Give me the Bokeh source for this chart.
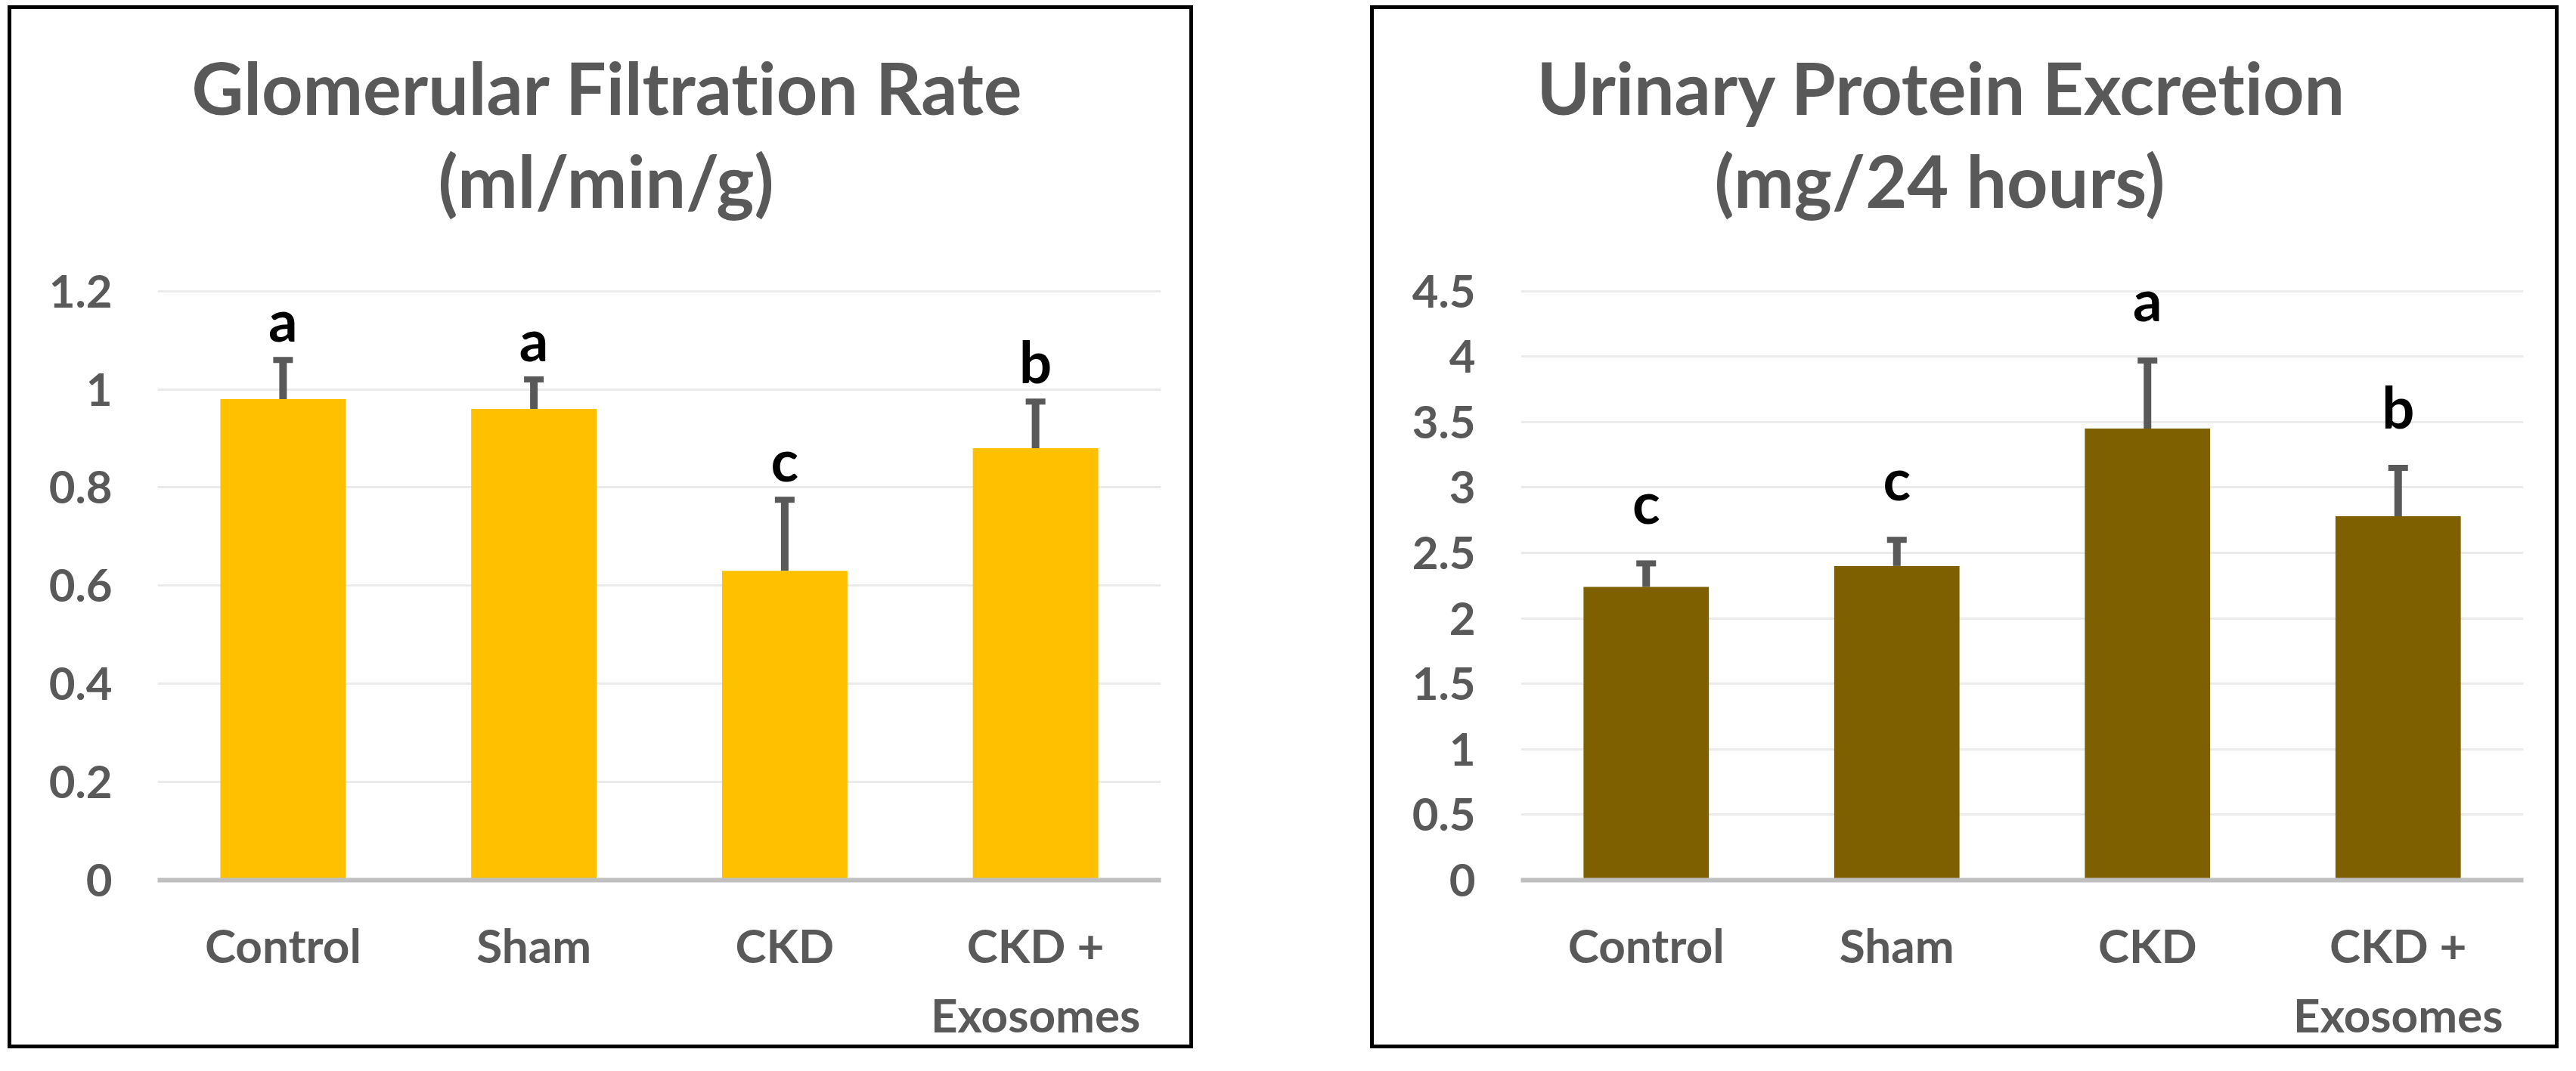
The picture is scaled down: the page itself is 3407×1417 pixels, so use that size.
from bokeh.plotting import figure
from bokeh.models import (Range1d, FixedTicker, Whisker, TeeHead, ColumnDataSource,
                          LabelSet, Title)
from bokeh.layouts import row, column
from bokeh.core.properties import value
from bokeh.embed import file_html
from bokeh.resources import INLINE

# ---------------- data ----------------
categories = ["Control", "Sham", "CKD", "CKD +\nExosomes"]

gfr_values = [0.98, 0.96, 0.63, 0.88]
gfr_errors = [0.08, 0.06, 0.145, 0.095]
gfr_letters = ["a", "a", "c", "b"]
gfr_ticks = [0, 0.2, 0.4, 0.6, 0.8, 1.0, 1.2]
gfr_tick_labels = ["0", "0.2", "0.4", "0.6", "0.8", "1", "1.2"]

upe_values = [2.24, 2.40, 3.45, 2.78]
upe_errors = [0.18, 0.20, 0.52, 0.37]
upe_letters = ["c", "c", "a", "b"]
upe_ticks = [0, 0.5, 1.0, 1.5, 2.0, 2.5, 3.0, 3.5, 4.0, 4.5]
upe_tick_labels = ["0", "0.5", "1", "1.5", "2", "2.5", "3", "3.5", "4", "4.5"]

FONT = "Lato"
GREY = "#595959"
TOP_PAD = 40 / 785.0   # invisible head-room above the last gridline (fraction)
TITLE_SIZE = "95px"


def make_panel(title1, title2, values, errors, letters, ticks, tick_labels,
               color, width, mb_left, mb_right, t1_off, t2_off, letter_offset):
    src = ColumnDataSource(dict(
        x=categories,
        top=values,
        lower=values,
        upper=[v + e for v, e in zip(values, errors)],
        letters=letters,
    ))
    p = figure(x_range=categories, y_range=Range1d(0, ticks[-1] * (1 + TOP_PAD)),
               width=width, height=1370,
               output_backend="svg", toolbar_location=None,
               min_border_left=mb_left, min_border_right=mb_right,
               min_border_top=333, min_border_bottom=212,
               background_fill_color="white", border_fill_color="white",
               outline_line_color=None)

    p.vbar(x="x", top="top", width=0.5, source=src,
           fill_color=color, line_color=None)

    p.add_layout(Whisker(base="x", upper="upper", lower="lower", source=src,
                         line_color=GREY, line_width=10,
                         upper_head=TeeHead(size=26, line_color=GREY, line_width=8),
                         lower_head=None))

    p.add_layout(LabelSet(x="x", y="upper", text="letters", source=src,
                          y_offset=letter_offset,
                          text_align="center", text_baseline="alphabetic",
                          text_font=value(FONT), text_font_style="bold",
                          text_font_size="76px", text_color="#000000"))

    # title: first line outermost (plot title), blank gap + second line nearer the plot
    p.add_layout(Title(text=" ", standoff=36, text_font_size="10px"), "above")
    p.add_layout(Title(text=title2, align="left", offset=t2_off, standoff=4,
                       text_font=FONT, text_font_style="bold",
                       text_font_size=TITLE_SIZE, text_color=GREY), "above")
    p.title.text = title1
    p.title.align = "left"
    p.title.offset = t1_off
    p.title.standoff = 10
    p.title.text_font = FONT
    p.title.text_font_style = "bold"
    p.title.text_font_size = TITLE_SIZE
    p.title.text_color = GREY

    # y axis
    p.yaxis.ticker = FixedTicker(ticks=ticks)
    p.yaxis.major_label_overrides = {t: l for t, l in zip(ticks, tick_labels)}
    p.yaxis.axis_line_color = None
    p.yaxis.major_tick_line_color = None
    p.yaxis.minor_tick_line_color = None
    p.yaxis.major_tick_out = 0
    p.yaxis.major_tick_in = 0
    p.yaxis.major_label_standoff = 60
    p.yaxis.major_label_text_font = FONT
    p.yaxis.major_label_text_font_style = "bold"
    p.yaxis.major_label_text_font_size = "60px"
    p.yaxis.major_label_text_color = GREY

    # x axis
    p.xaxis.axis_line_color = "#BFBFBF"
    p.xaxis.axis_line_width = 6
    p.xaxis.major_tick_line_color = None
    p.xaxis.minor_tick_line_color = None
    p.xaxis.major_tick_out = 0
    p.xaxis.major_tick_in = 0
    p.xaxis.major_label_standoff = 48
    p.xaxis.major_label_text_font = FONT
    p.xaxis.major_label_text_font_style = "bold"
    p.xaxis.major_label_text_font_size = "62px"
    p.xaxis.major_label_text_color = GREY
    p.xaxis.major_label_text_line_height = 1.25

    p.xgrid.grid_line_color = None
    p.ygrid.grid_line_color = "#EBEBEB"
    p.ygrid.grid_line_width = 3
    return p


p1 = make_panel("Glomerular Filtration Rate", "(ml/min/g)",
                gfr_values, gfr_errors, gfr_letters, gfr_ticks, gfr_tick_labels,
                "#FFC000", 1558, 193, 38, 45, 371, 24)
p2 = make_panel("Urinary Protein Excretion", "(mg/24 hours)",
                upe_values, upe_errors, upe_letters, upe_ticks, upe_tick_labels,
                "#7F6000", 1562, 194, 42, 21, 256, 52)

box = {"border": "5px solid #000000", "box-sizing": "content-box",
       "font-variant-ligatures": "none", "font-feature-settings": "\"liga\" 0, \"clig\" 0"}
w1 = column(p1, styles=box, margin=(7, 0, 0, 10))
w2 = column(p2, styles=box, margin=(7, 0, 0, 234))
layout = row(w1, w2)

open("out.html", "w").write(file_html(layout, INLINE))
